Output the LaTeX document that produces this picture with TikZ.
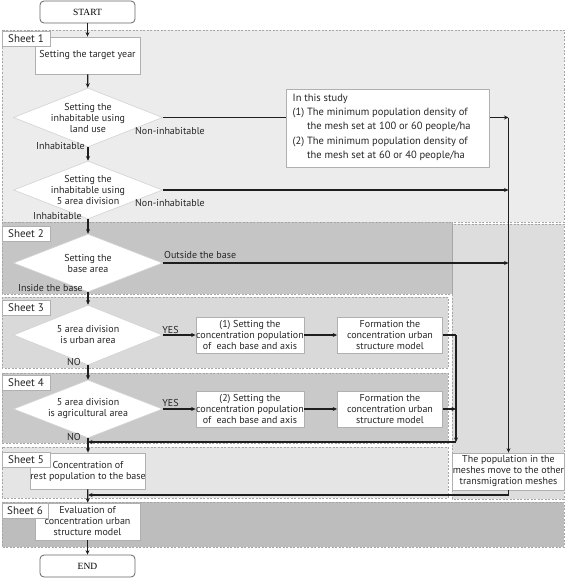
\documentclass[tikz,border=0pt]{standalone}
\usepackage{fontspec}
\setmainfont{PT Sans}
\newfontfamily\startfont{Liberation Serif}
\usetikzlibrary{shapes.geometric,arrows.meta}
\definecolor{fillA}{HTML}{ECECEC}
\definecolor{fillB}{HTML}{C5C5C5}
\definecolor{fillC}{HTML}{D9D9D9}
\definecolor{fillD}{HTML}{C9C9C9}
\definecolor{fillE}{HTML}{E5E5E5}
\definecolor{fillR}{HTML}{DDDDDD}
\definecolor{fillF}{HTML}{BDBDBD}
\definecolor{bord}{HTML}{B0B0B0}
\definecolor{ink}{HTML}{1E1E1E}
\definecolor{txt}{HTML}{262626}
\tikzset{
  region/.style={draw=gray!70, dash pattern=on 2pt off 1.5pt, line width=0.5pt},
  stepbox/.style={draw=bord, fill=white, line width=0.8pt, align=center, inner sep=0pt, text=txt},
  sheetlab/.style={draw=bord, fill=white, line width=0.6pt, inner sep=0pt, minimum width=48pt, minimum height=15pt, font=\fontsize{11}{12}\selectfont, text=txt},
  terminal/.style={draw=gray!80!black, fill=white, rounded corners=4pt, line width=0.8pt, minimum width=95pt, minimum height=22pt, inner sep=0pt, font=\startfont\fontsize{9.5}{10}\selectfont},
  dia/.style={shape=diamond, draw=gray!35, fill=white, line width=0.6pt, inner sep=0pt, minimum width=149pt, minimum height=59pt},
  dtext/.style={align=center, text=txt, inner sep=0pt},
  lab/.style={inner sep=0pt, text=txt},
  arr/.style={draw=ink, line width=1.2pt, -{Stealth[length=4.5pt,width=4pt]}},
  ln/.style={draw=ink, line width=1.2pt},
}
\begin{document}
\begin{tikzpicture}[x=1pt,y=-1pt, font=\fontsize{10}{11}\selectfont]
\useasboundingbox (0,0) rectangle (565,578);
% regions
\fill[white] (0,0) rectangle (565,578);
\draw[region, fill=fillA] (2,30) rectangle (564,222);
\draw[region, fill=fillR] (452,224) rectangle (564,499);
\draw[region, fill=fillB] (2,222) rectangle (452,294);
\draw[region, fill=fillC] (2,297) rectangle (448,368);
\draw[region, fill=fillD] (2,373) rectangle (448,443);
\draw[region, fill=fillE] (2,447) rectangle (448,498);
\draw[region, fill=fillF] (2,502) rectangle (564,547);

% main nodes
\node[terminal] (start) at (87.5,12) {START};
\node[stepbox, minimum width=105pt, minimum height=37pt] (target) at (87.5,55.5) {Setting the target year};
\node[dia, label={[dtext]center:{Setting the\\inhabitable using\\land use}}] (d1) at (88,117.5) {};
\node[dia, minimum height=58pt, label={[dtext]center:{Setting the\\inhabitable using\\5 area division}}] (d2) at (88,190) {};
\node[dia, minimum height=58pt, label={[dtext]center:{Setting the\\base area}}] (d3) at (88,263) {};
\node[dia, minimum height=60pt, label={[dtext]center:{5 area division\\is urban area}}] (d4) at (88,335) {};
\node[dia, minimum height=58pt, label={[dtext]center:{5 area division\\is agricultural area}}] (d5) at (88,409) {};

\node[stepbox, minimum width=108pt, minimum height=36pt] (bA) at (250,335) {(1) Setting the\\concentration population\\of\ \ each base and axis};
\node[stepbox, minimum width=105pt, minimum height=36pt] (bB) at (390,335) {Formation the\\concentration urban\\structure model};
\node[stepbox, minimum width=108pt, minimum height=36pt] (bC) at (250,409) {(2) Setting the\\concentration population\\of\ \ each base and axis};
\node[stepbox, minimum width=105pt, minimum height=36pt] (bD) at (390,409) {Formation the\\concentration urban\\structure model};

\node[stepbox, minimum width=114pt, minimum height=36pt] (bE) at (88,471) {Concentration of\\rest population to the base};
\node[stepbox, minimum width=109pt, minimum height=37pt] (bG) at (508.5,471.5) {The population in the\\meshes move to the other\\transmigration meshes};
\node[stepbox, minimum width=105pt, minimum height=37pt] (bF) at (87.5,521.5) {Evaluation of\\concentration urban\\structure model};
\node[terminal] (end) at (87.5,566) {END};

% sheet labels (on top of boxes)
\node[sheetlab] (s1) at (26,38.5) {Sheet 1};
\node[sheetlab] (s2) at (26,234) {Sheet 2};
\node[sheetlab] (s3) at (26,307.5) {Sheet 3};
\node[sheetlab] (s4) at (26,383) {Sheet 4};
\node[sheetlab] (s5) at (26,460) {Sheet 5};
\node[sheetlab, minimum width=46pt] (s6) at (25,510.5) {Sheet 6};

% coordinates
\coordinate (m1) at (508.5,117.5);
\coordinate (m2) at (508.5,190);
\coordinate (m3) at (508.5,263);
\coordinate (c1) at (456,335);
\coordinate (c2) at (456,409);
\coordinate (c3) at (456,442);
\coordinate (j1) at (88,442);
\coordinate (g1) at (508.5,495);
\coordinate (j2) at (88,495);

% vertical main flow
\draw[arr] (start) -- (target);
\draw[arr] (target) -- (d1);
\draw[arr] (d1.south) -- (d2.north);
\draw[arr] (d2.south) -- (d3.north);
\draw[arr] (d3.south) -- (d4.north);
\draw[arr] (d4.south) -- (d5.north);
\draw[arr] (d5.south) -- (bE.north);
\draw[arr] (bE) -- (bF);
\draw[arr] (bF) -- (end);

% right lines
\draw[arr] (d1.east) -- (m1);
\draw[arr] (d2.east) -- (m2);
\draw[arr] (d3.east) -- (m3);
\draw[arr] (m1) -- (bG.north);

% note box (on top of line)
\node[draw=bord, fill=white, line width=0.8pt, minimum width=203pt, minimum height=78pt, inner sep=0pt, text=txt] (note) at (387.5,128) {};
\node[lab, anchor=north west, align=left, font=\fontsize{10.5}{14.3}\selectfont] (notetext) at (292.5,93.5) {In this study\\(1) The minimum population density of\\\hphantom{(1) }the mesh set at 100 or 60 people/ha\\(2) The minimum population density of\\\hphantom{(2) }the mesh set at 60 or 40 people/ha};

% sheet 3/4 branches
\draw[arr] (d4.east) -- (bA.west);
\draw[arr] (bA) -- (bB);
\draw[arr] (d5.east) -- (bC.west);
\draw[arr] (bC) -- (bD);
\draw[ln] (bB.east) -- (c1);
\draw[arr] (c1) -- (c3);
\draw[arr] (bD.east) -- (c2);
\draw[arr] (c3) -- (j1);
\draw[ln] (bG.south) -- (g1);
\draw[arr] (g1) -- (j2);

% labels
\node[lab, anchor=west] (l1) at (135,131.5) {Non-inhabitable};
\node[lab, anchor=west] (l2) at (135,203) {Non-inhabitable};
\node[lab, anchor=west] (l3) at (164,255) {Outside the base};
\node[lab, anchor=east] (l4) at (85,146.5) {Inhabitable};
\node[lab, anchor=east] (l5) at (82,216) {Inhabitable};
\node[lab, anchor=east] (l6) at (83,288) {Inside the base};
\node[lab, anchor=east] (l7) at (81,362) {NO};
\node[lab, anchor=east] (l8) at (81,437) {NO};
\node[lab] (y1) at (170.5,330) {YES};
\node[lab] (y2) at (170.5,402.5) {YES};
\end{tikzpicture}
\end{document}
